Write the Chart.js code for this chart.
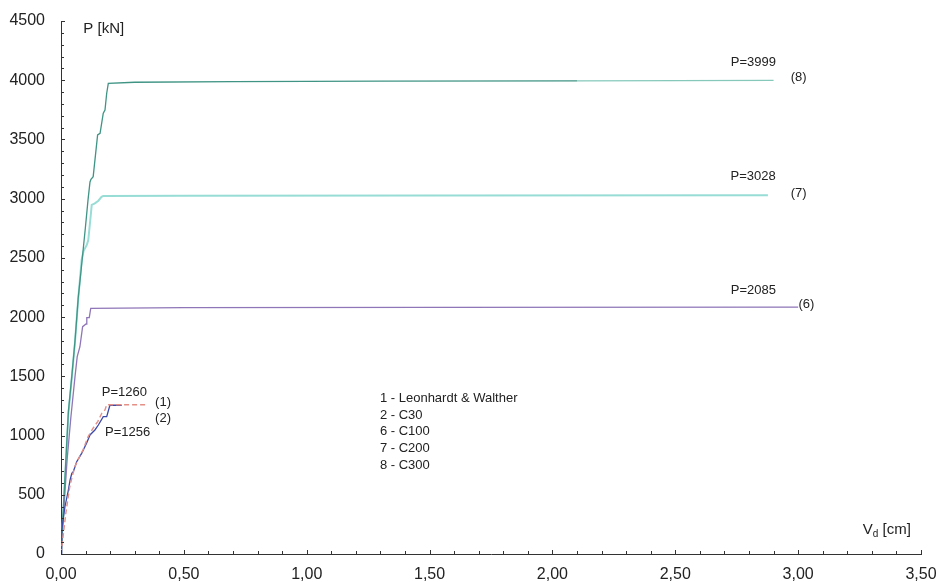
<!DOCTYPE html>
<html><head><meta charset="utf-8">
<script src="https://cdn.jsdelivr.net/npm/chart.js@4.4.0/dist/chart.umd.min.js"></script>
<style>html,body{margin:0;padding:0;background:#fff;}canvas{display:block;}</style>
</head><body>
<canvas id="c" width="939" height="582"></canvas>
<script>
// Load P [kN] against deflection V_d [cm]

// 1 - Leonhardt & Walther (test)
const lwDisp = [0, 0.02, 0.035, 0.045, 0.057, 0.07, 0.09, 0.11, 0.13, 0.15, 0.166, 0.179, 0.186, 0.351];
const lwLoad = [0, 350, 560, 650, 740, 800, 880, 990, 1060, 1120, 1188, 1216, 1260, 1260];

// 2 - C30
const c30Disp = [0, 0.003, 0.016, 0.030, 0.037, 0.044, 0.050, 0.064, 0.084, 0.104, 0.118, 0.138, 0.152, 0.172, 0.186, 0.199, 0.247];
const c30Load = [0, 203, 399, 540, 625, 681, 695, 779, 850, 935, 1005, 1047, 1089, 1159, 1159, 1256, 1256];

// 6 - C100
const c100Disp = [0, 0.012, 0.025, 0.04, 0.057, 0.066, 0.077, 0.088, 0.102, 0.105, 0.115, 0.121, 0.5, 1.5, 3.0];
const c100Load = [0, 400, 800, 1150, 1497, 1666, 1750, 1919, 1942, 1995, 1995, 2074, 2080, 2083, 2085];

// 7 - C200
const c200Disp = [0, 0.015, 0.03, 0.044, 0.057, 0.064, 0.07, 0.084, 0.092, 0.105, 0.111, 0.122, 0.125, 0.138, 0.152, 0.165, 0.172, 0.5, 1.5, 2.877];
const c200Load = [0, 570, 1180, 1490, 1790, 1985, 2150, 2482, 2560, 2609, 2651, 2879, 2947, 2960, 2983, 3015, 3023, 3025, 3027, 3028];

// 8 - C300
const c300Disp = [0, 0.015, 0.03, 0.044, 0.057, 0.064, 0.07, 0.082, 0.099, 0.110, 0.118, 0.122, 0.131, 0.149, 0.159, 0.172, 0.179, 0.186, 0.1925, 0.3, 0.7, 1.3, 2.1, 2.9];
const c300Load = [0, 600, 1200, 1500, 1800, 1990, 2161, 2400, 2750, 2990, 3141, 3164, 3186, 3538, 3552, 3721, 3749, 3890, 3974, 3983, 3988, 3992, 3995, 3999];

// axis tick labels
const xTickLabels = ['0,00', '0,50', '1,00', '1,50', '2,00', '2,50', '3,00', '3,50'];
const yTickLabels = ['0', '500', '1000', '1500', '2000', '2500', '3000', '3500', '4000', '4500'];

// text drawn on the plot
const peakLabels = ['P=1260', 'P=1256', 'P=2085', 'P=3028', 'P=3999'];
const curveTags = ['(1)', '(2)', '(6)', '(7)', '(8)'];
const keyLines = ['1 - Leonhardt & Walther', '2 - C30', '6 - C100', '7 - C200', '8 - C300'];
const yAxisTitle = 'P [kN]';

const pts = (xs, ys) => xs.map((x, i) => ({ x: x, y: ys[i] }));
const FONT = '"Liberation Sans", Arial, sans-serif';
const INK = '#222';

// inward tick marks and on-plot text
const decorations = {
  id: 'decorations',
  afterDraw(chart) {
    const { ctx, scales: { x, y } } = chart;
    ctx.save();
    ctx.strokeStyle = '#333';
    ctx.lineWidth = 1;
    ctx.beginPath();
    for (let i = 0; i <= 35; i++) {
      const px = Math.round(x.getPixelForValue(i / 10)) + 0.5;
      const len = i % 5 === 0 ? 4 : 3;
      ctx.moveTo(px, y.bottom);
      ctx.lineTo(px, y.bottom - len);
    }
    for (let i = 0; i <= 45; i++) {
      const py = Math.round(y.getPixelForValue(i * 100)) + 0.5;
      const len = i % 5 === 0 ? 4 : 3;
      ctx.moveTo(x.left, py);
      ctx.lineTo(x.left + len, py);
    }
    ctx.stroke();

    ctx.fillStyle = INK;
    ctx.textBaseline = 'middle';
    ctx.textAlign = 'left';
    const put = (t, xv, yv) => ctx.fillText(t, x.getPixelForValue(xv), y.getPixelForValue(yv));

    ctx.font = '13px ' + FONT;
    put(peakLabels[0], 0.166, 1364);
    put(peakLabels[1], 0.179, 1030);
    put(peakLabels[2], 2.726, 2227);
    put(peakLabels[3], 2.725, 3186);
    put(peakLabels[4], 2.726, 4154);
    put(curveTags[0], 0.383, 1283);
    put(curveTags[1], 0.383, 1142);
    put(curveTags[2], 3.001, 2111);
    put(curveTags[3], 2.970, 3048);
    put(curveTags[4], 2.970, 4027);
    keyLines.forEach((t, i) => put(t, 1.298, 1315 - i * 141));

    ctx.font = '15px ' + FONT;
    put(yAxisTitle, 0.091, 4430);
    // V_d [cm]
    const vx = x.getPixelForValue(3.263), vy = y.getPixelForValue(203);
    ctx.fillText('V', vx, vy);
    const vw = ctx.measureText('V').width;
    ctx.font = '10px ' + FONT;
    ctx.fillText('d', vx + vw, vy + 4);
    const dw = ctx.measureText('d').width;
    ctx.font = '15px ' + FONT;
    ctx.fillText(' [cm]', vx + vw + dw, vy);
    ctx.restore();
  }
};

const line = (label, data, color, width, extra) => Object.assign({
  label: label, data: data, showLine: true, borderColor: color, backgroundColor: color,
  borderWidth: width, pointRadius: 0, tension: 0, fill: false
}, extra || {});

const fixBox = size => s => {
  if (size.h !== undefined) s.height = size.h;
  if (size.w !== undefined) s.width = size.w;
  s.paddingLeft = s.paddingRight = s.paddingTop = s.paddingBottom = 0;
};

new Chart(document.getElementById('c'), {
  type: 'scatter',
  data: {
    datasets: [
      line('1 - Leonhardt & Walther', pts(lwDisp, lwLoad), '#e58f86', 1.4, { borderDash: [5, 3], order: 1 }),
      line('2 - C30', pts(c30Disp, c30Load), '#3b4aa8', 1.3, { order: 2 }),
      line('8 - C300', pts(c300Disp, c300Load), '#3f9484', 1.3, {
        order: 3,
        segment: { borderColor: ctx => ctx.p0.parsed.x >= 2.1 ? '#86c9bb' : undefined }
      }),
      line('6 - C100', pts(c100Disp, c100Load), '#8f76b8', 1.3, { order: 4 }),
      line('7 - C200', pts(c200Disp, c200Load), '#98dcd6', 2, { order: 5 })
    ]
  },
  options: {
    responsive: false,
    animation: false,
    devicePixelRatio: 1,
    layout: { padding: { top: 21, right: 18, left: 0, bottom: 0 } },
    plugins: { legend: { display: false }, tooltip: { enabled: false } },
    scales: {
      x: {
        type: 'linear', min: 0, max: 3.5,
        afterFit: fixBox({ h: 28 }),
        ticks: {
          stepSize: 0.5, color: INK, padding: 11,
          font: { family: FONT, size: 16 },
          callback: (v, i) => xTickLabels[i]
        },
        grid: { drawOnChartArea: false, drawTicks: false },
        border: { display: true, color: '#333', width: 1 }
      },
      y: {
        type: 'linear', min: 0, max: 4500,
        afterFit: fixBox({ w: 61 }),
        ticks: {
          stepSize: 500, color: INK, padding: 16,
          font: { family: FONT, size: 16 },
          callback: (v, i) => yTickLabels[i]
        },
        grid: { drawOnChartArea: false, drawTicks: false },
        border: { display: true, color: '#333', width: 1 }
      }
    }
  },
  plugins: [decorations]
});
</script>
</body></html>
